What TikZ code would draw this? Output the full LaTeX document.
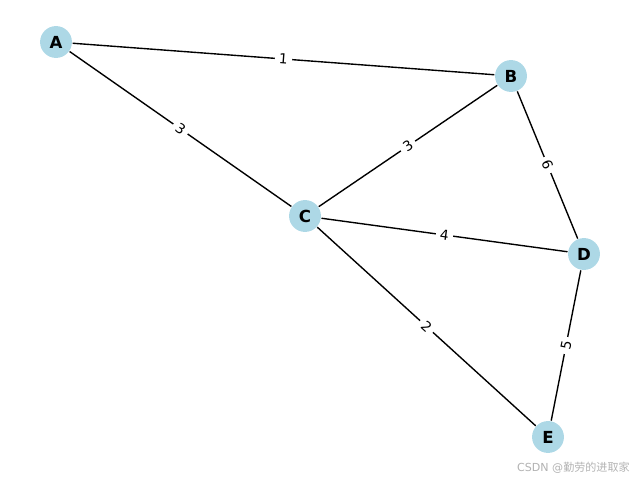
\documentclass[tikz,border=0pt]{standalone}
\usepackage{fontspec}
\setmainfont{DejaVu Sans}
\newfontfamily\cjkfont{Noto Sans CJK SC}
\usepackage{xcolor}
\usetikzlibrary{arrows.meta,calc}
\definecolor{nodeblue}{HTML}{ADD8E6}
\tikzset{
  vertex/.style={circle, fill=nodeblue, minimum size=8.1mm, inner sep=0pt, font=\fontsize{12}{12}\selectfont\bfseries},
  weight/.style={fill=white, inner xsep=3pt, inner ysep=1pt, sloped, font=\fontsize{10}{10}\selectfont},
}
\begin{document}
\begin{tikzpicture}[x=0.254mm, y=-0.254mm, line width=1pt]
\useasboundingbox (0,0) rectangle (640,480);
%\draw (0,0) rectangle (640,480);
\node[vertex] (a) at (56,42) {A};
\node[vertex] (b) at (511,76) {B};
\node[vertex] (c) at (305,216) {C};
\node[vertex] (d) at (584,254) {D};
\node[vertex] (e) at (548,437) {E};

\foreach \u/\v/\w in {a/b/1, a/c/3, b/c/3, b/d/6, c/d/4, c/e/2, d/e/5}
    \draw (\u) -- node[weight] {\w} (\v);

\node[text=black!30, anchor=east, font=\fontsize{8}{8}\selectfont] (mark) at (635,468) {CSDN @{\cjkfont 勤劳的进取家}};
\end{tikzpicture}
\end{document}
